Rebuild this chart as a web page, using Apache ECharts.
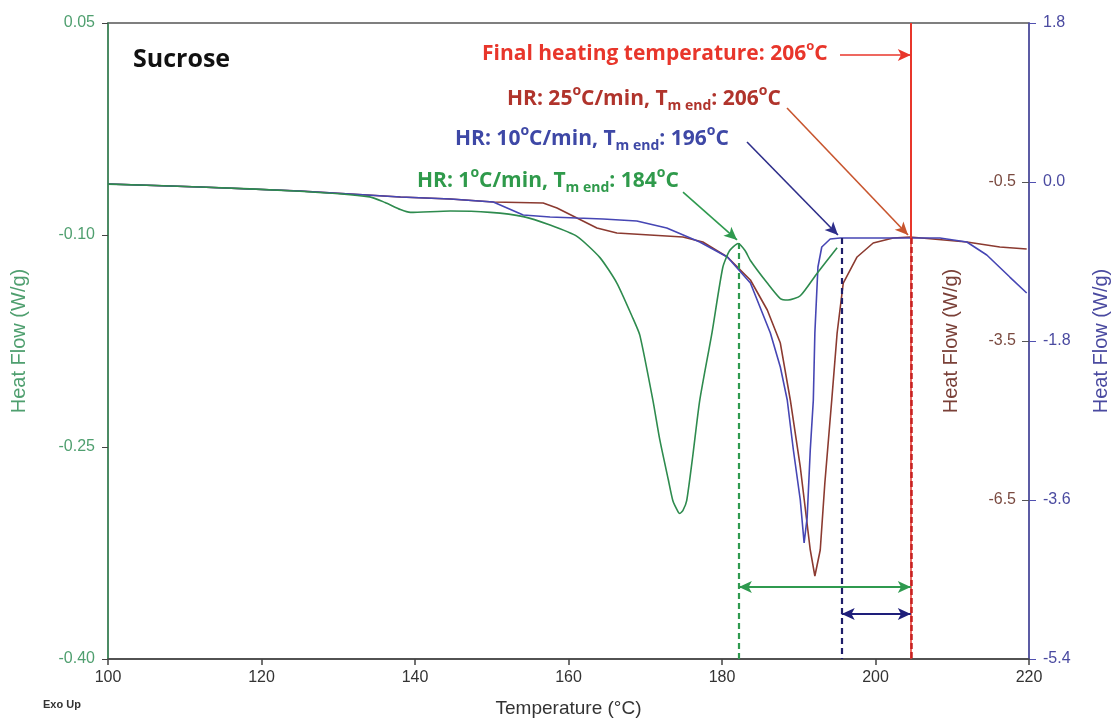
<!DOCTYPE html>
<html><head><meta charset="utf-8">
<script src="https://cdn.jsdelivr.net/npm/echarts@6/dist/echarts.min.js"></script>
<style>html,body{margin:0;padding:0;background:#fff;overflow:hidden}#c{width:1115px;height:719px}</style>
</head><body><div id="c"></div>
<script>
// ---- axis ticks ----
const xTicks = [100, 120, 140, 160, 180, 200, 220];
const leftTicks = [0.05, -0.10, -0.25, -0.40];      // HR 1 °C/min axis (W/g)
const brownTicks = [-0.5, -3.5, -6.5];             // HR 25 °C/min axis (W/g)
const blueTicks = [1.8, 0.0, -1.8, -3.6, -5.4];    // HR 10 °C/min axis (W/g)

// ---- HR 1 °C/min (green, left axis) ----
const hr1Temp = [100.0,112.0,125.0,134.1,136.1,138.1,139.4,144.6,149.8,154.1,157.6,161.1,164.1,166.3,168.4,169.3,171.0,171.9,173.0,173.6,174.3,174.5,174.9,175.4,176.2,177.1,178.7,180.1,181.0,182.1,183.0,183.7,185.9,187.6,188.6,190.2,192.4,195.0];
const hr1Flow = [-0.064,-0.066,-0.069,-0.073,-0.077,-0.082,-0.084,-0.083,-0.084,-0.087,-0.093,-0.101,-0.116,-0.134,-0.159,-0.171,-0.217,-0.245,-0.273,-0.288,-0.296,-0.297,-0.295,-0.288,-0.256,-0.217,-0.169,-0.123,-0.111,-0.106,-0.111,-0.118,-0.134,-0.145,-0.146,-0.143,-0.127,-0.109];

// ---- HR 10 °C/min (blue, outer right axis) ----
const hr10Temp = [100.0,112.0,125.0,138.1,144.6,150.2,154.1,157.6,161.1,164.5,168.9,172.8,177.1,180.7,183.7,186.3,187.6,188.5,189.3,190.2,190.7,191.1,191.5,191.9,192.1,192.5,193.0,194.1,195.4,203.2,208.4,211.9,214.5,217.5,219.7];
const hr10Flow = [-0.023,-0.057,-0.102,-0.170,-0.193,-0.227,-0.374,-0.396,-0.408,-0.419,-0.442,-0.521,-0.679,-0.849,-1.143,-1.710,-2.094,-2.468,-3.034,-3.600,-4.087,-3.793,-3.034,-2.468,-1.710,-0.962,-0.736,-0.645,-0.634,-0.634,-0.634,-0.679,-0.826,-1.076,-1.257];

// ---- HR 25 °C/min (brown, inner right axis) ----
const hr25Temp = [100.0,112.0,125.0,138.1,144.6,150.2,156.7,158.5,161.1,163.7,166.3,170.6,174.9,177.5,180.7,183.7,185.9,187.6,188.9,190.2,191.5,192.1,192.8,193.4,194.3,195.0,195.8,197.6,199.7,202.3,204.5,211.9,216.2,219.7];
const hr25Flow = [-0.538,-0.594,-0.670,-0.783,-0.821,-0.877,-0.896,-0.991,-1.179,-1.368,-1.462,-1.500,-1.538,-1.632,-1.915,-2.349,-2.915,-3.538,-4.613,-5.877,-7.443,-7.934,-7.443,-6.179,-4.613,-3.349,-2.406,-1.915,-1.651,-1.557,-1.538,-1.632,-1.726,-1.764];

// ---- annotation positions (data space) ----
const tmEnd1X = 182.2, tmEnd10X = 195.6, finalX = 204.6;
const peak1Flow = -0.1057, plateau10Flow = -0.634, plateau25Flow = -1.557;
const span1Flow = -0.349, span10Flow = -4.891;

const GREEN = '#2e8b4e', BROWN = '#8b3a30', BLUE = '#4646b4';
const zip = (a, b) => a.map((v, i) => [v, b[i]]);

const chart = echarts.init(document.getElementById('c'), null, {renderer: 'canvas'});

function annText(x, y, txt, color, size, ratio) {
  const small = Math.round(size * (ratio || 0.68));
  return {
    type: 'text', x: x, y: y, silent: true, z: 50,
    style: {
      text: txt, fill: color, fontSize: size, fontWeight: 700, fontFamily: 'Open Sans',
      align: 'left', verticalAlign: 'middle', lineHeight: size + 8,
      rich: {
        s: {fill: color, fontSize: small, fontWeight: 700, fontFamily: 'Open Sans', verticalAlign: 'top', lineHeight: small + 1},
        b: {fill: color, fontSize: small, fontWeight: 700, fontFamily: 'Open Sans', verticalAlign: 'bottom', lineHeight: small + 1}
      }
    }
  };
}

function seg(p1, p2, color, width, type, s1, s2) {
  return [
    {coord: p1, symbol: s1 || 'none', symbolSize: [9, 13], lineStyle: {color: color, width: width, type: type || 'solid'}, itemStyle: {color: color}},
    {coord: p2, symbol: s2 || 'none', symbolSize: [9, 13], itemStyle: {color: color}}
  ];
}

const option = {
  animation: false,
  backgroundColor: '#ffffff',
  textStyle: {fontFamily: 'Liberation Sans'},
  grid: {left: 108, right: 86, top: 23, bottom: 60, outerBoundsMode: 'none', containLabel: false,
    show: true, borderColor: '#555', borderWidth: 1.5, backgroundColor: 'transparent'},
  xAxis: {
    type: 'value', min: 100, max: 220, interval: 20,
    name: 'Temperature (°C)', nameLocation: 'middle', nameGap: 40,
    nameTextStyle: {fontSize: 19, color: '#333', fontFamily: 'Liberation Sans'},
    axisLine: {onZero: false, lineStyle: {color: '#444', width: 1.5}},
    axisTick: {length: 6, lineStyle: {color: '#444', width: 1.5}},
    axisLabel: {fontSize: 16, color: '#333', margin: 11, fontFamily: 'Liberation Sans', customValues: xTicks},
    splitLine: {show: false}
  },
  yAxis: [
    {
      type: 'value', min: -0.40, max: 0.05, position: 'left',
      name: 'Heat Flow (W/g)', nameLocation: 'middle', nameGap: 79,
      nameTextStyle: {fontSize: 20, color: '#4f9f6f', fontFamily: 'Liberation Sans'},
      axisLine: {show: true, onZero: false, lineStyle: {color: '#3b8f5b', width: 1.5}},
      axisTick: {show: true, length: 6, lineStyle: {color: '#444'}, customValues: leftTicks},
      axisLabel: {fontSize: 16, color: '#4f9f6f', margin: 13, customValues: leftTicks,
        formatter: v => v.toFixed(2)},
      splitLine: {show: false}
    },
    {
      type: 'value', min: -9.5, max: 2.5, position: 'right',
      name: 'Heat Flow (W/g)', nameLocation: 'middle', nameGap: -88,
      nameTextStyle: {fontSize: 20, color: '#7a4038', fontFamily: 'Liberation Sans'},
      axisLine: {show: false, onZero: false},
      axisTick: {show: true, inside: true, length: 7, lineStyle: {color: '#555'}, customValues: brownTicks},
      axisLabel: {inside: true, fontSize: 16, color: '#7a4a40', margin: 13, customValues: brownTicks,
        formatter: v => v.toFixed(1)},
      splitLine: {show: false}
    },
    {
      type: 'value', min: -5.4, max: 1.8, position: 'right',
      name: 'Heat Flow (W/g)', nameLocation: 'middle', nameGap: 62,
      nameTextStyle: {fontSize: 20, color: '#4a4aa0', fontFamily: 'Liberation Sans'},
      axisLine: {show: true, onZero: false, lineStyle: {color: '#5050b0', width: 1.5}},
      axisTick: {show: true, length: 7, lineStyle: {color: '#5050b0'}, customValues: blueTicks},
      axisLabel: {fontSize: 16, color: '#4a4aa0', margin: 14, customValues: blueTicks,
        formatter: v => v.toFixed(1)},
      splitLine: {show: false}
    }
  ],
  series: [
    {
      name: 'HR 25 °C/min', type: 'line', yAxisIndex: 1, data: zip(hr25Temp, hr25Flow),
      showSymbol: false, smooth: false,
      lineStyle: {color: BROWN, width: 1.6}, itemStyle: {color: BROWN}, z: 3,
      markLine: {
        silent: true, animation: false, label: {show: false}, symbol: ['none', 'none'],
        data: [
          seg([finalX, 2.5], [finalX, plateau25Flow], '#e8362b', 2),
          seg([finalX, plateau25Flow], [finalX, -9.5], '#e8362b', 1.5),
          seg([finalX, plateau25Flow], [finalX, -9.5], '#c82020', 2.5, [6, 3]),
          seg([195.37, 1.896], [finalX, 1.896], '#e8362b', 1.6, 'solid', 'none', 'arrow'),
          seg([188.47, 0.896], [204.24, -1.50], '#c8552e', 1.6, 'solid', 'none', 'arrow')
        ]
      }
    },
    {
      name: 'HR 10 °C/min', type: 'line', yAxisIndex: 2, data: zip(hr10Temp, hr10Flow),
      showSymbol: false, smooth: false,
      lineStyle: {color: BLUE, width: 1.6}, itemStyle: {color: BLUE}, z: 4,
      markLine: {
        silent: true, animation: false, label: {show: false}, symbol: ['none', 'none'],
        data: [
          seg([tmEnd10X, plateau10Flow], [tmEnd10X, -5.4], '#1e1e6a', 2.2, [6, 4]),
          seg([tmEnd10X, span10Flow], [finalX, span10Flow], '#1e1e7a', 2, 'solid', 'arrow', 'arrow'),
          seg([183.26, 0.453], [195.11, -0.600], '#2e2e8a', 1.6, 'solid', 'none', 'arrow')
        ]
      }
    },
    {
      name: 'HR 1 °C/min', type: 'line', yAxisIndex: 0, data: zip(hr1Temp, hr1Flow),
      showSymbol: false, smooth: 0.2,
      lineStyle: {color: GREEN, width: 1.6}, itemStyle: {color: GREEN}, z: 5,
      markLine: {
        silent: true, animation: false, label: {show: false}, symbol: ['none', 'none'],
        data: [
          seg([tmEnd1X, peak1Flow], [tmEnd1X, -0.40], '#2f9a4f', 2.2, [6, 4]),
          seg([tmEnd1X, span1Flow], [finalX, span1Flow], '#2f9a4f', 2, 'solid', 'arrow', 'arrow'),
          seg([174.92, -0.0696], [181.96, -0.1035], '#2f9a4f', 1.6, 'solid', 'none', 'arrow')
        ]
      }
    }
  ],
  graphic: [
    {type: 'text', x: 133, y: 60, silent: true,
      style: {text: 'Sucrose', fill: '#111', fontSize: 25, fontWeight: 700, fontFamily: 'Open Sans', verticalAlign: 'middle'}},
    annText(482, 54, 'Final heating temperature: 206{s|o}C', '#e8362b', 21, 0.62),
    annText(507, 99, 'HR: 25{s|o}C/min, T{b|m end}: 206{s|o}C', '#b0342c', 21),
    annText(455, 139, 'HR: 10{s|o}C/min, T{b|m end}: 196{s|o}C', '#3e48a6', 21),
    annText(417, 181, 'HR: 1{s|o}C/min, T{b|m end}: 184{s|o}C', '#2f9a4b', 21),
    {type: 'text', x: 43, y: 705, silent: true,
      style: {text: 'Exo Up', fill: '#333', fontSize: 11, fontWeight: 700, fontFamily: 'Liberation Sans', verticalAlign: 'middle'}}
  ]
};
chart.setOption(option);
</script>
</body></html>
